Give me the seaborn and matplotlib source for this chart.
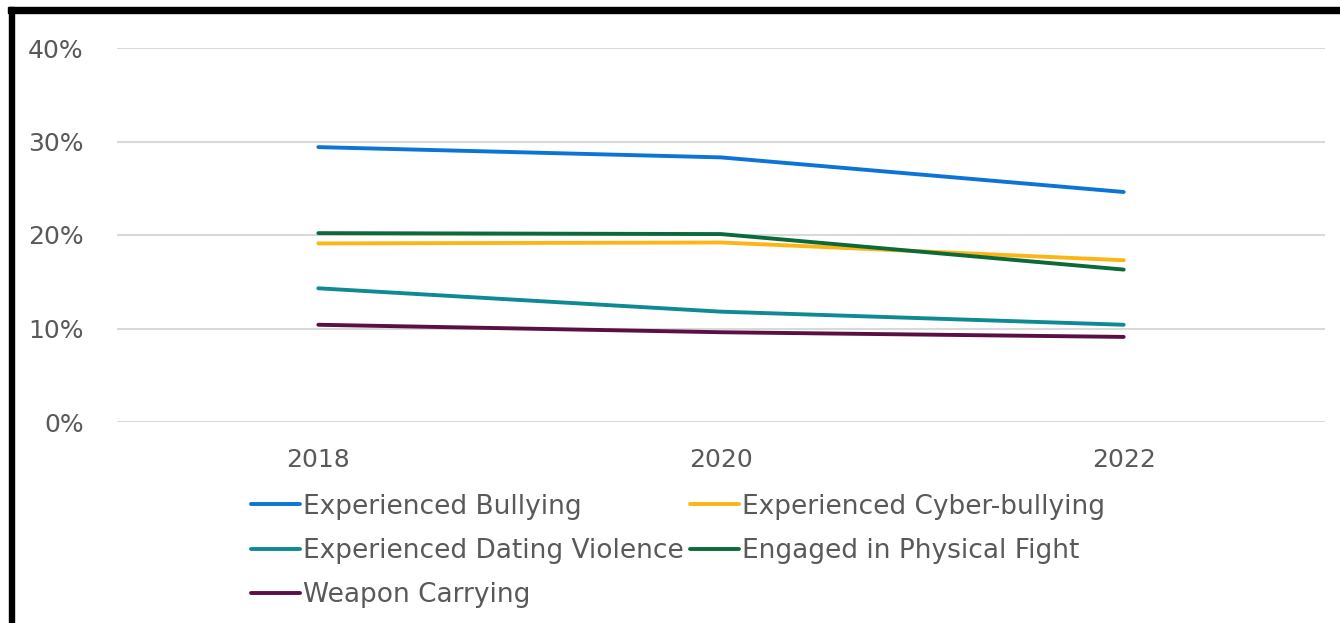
import matplotlib
matplotlib.use('Agg')
import matplotlib.pyplot as plt
from matplotlib.patches import Rectangle
import seaborn as sns
import pandas as pd

# 数据
years = [2018, 2020, 2022]
series_names = ['Experienced Bullying', 'Experienced Cyber-bullying',
                'Experienced Dating Violence', 'Engaged in Physical Fight',
                'Weapon Carrying']
bullying = [0.294, 0.283, 0.246]
cyber_bullying = [0.191, 0.192, 0.173]
dating_violence = [0.143, 0.118, 0.104]
physical_fight = [0.202, 0.201, 0.163]
weapon_carrying = [0.104, 0.096, 0.091]
colors = ['#0b74d6', '#fdb515', '#0f8a94', '#0b6a37', '#5b0f45']

values = [bullying, cyber_bullying, dating_violence, physical_fight, weapon_carrying]
rows = []
for name, vals in zip(series_names, values):
    for y, v in zip(years, vals):
        rows.append({'Year': y, 'Rate': v, 'Series': name})
df = pd.DataFrame(rows)

sns.set_style('white')
plt.rcParams['font.family'] = ['DejaVu Sans']

W, H = 1340, 623
fig = plt.figure(figsize=(W / 100, H / 100), dpi=100)
ax = fig.add_axes([117 / W, 1 - 422 / H, (1325 - 117) / W, (422 - 48) / H])

sns.lineplot(data=df, x='Year', y='Rate', hue='Series', hue_order=series_names,
             palette=colors, linewidth=2.8, ax=ax, legend=False)

ax.set_xlim(2017, 2023)
ax.set_ylim(0, 0.4)
ax.set_xticks(years)
ax.set_xticklabels([str(y) for y in years])
ax.set_yticks([0, 0.1, 0.2, 0.3, 0.4])
ax.set_yticklabels(['0%', '10%', '20%', '30%', '40%'])
ax.grid(axis='y', color='#d9d9d9', linewidth=1.5)
ax.set_axisbelow(True)
for s in ax.spines.values():
    s.set_visible(False)
ax.tick_params(axis='y', length=0, pad=24, labelsize=18, labelcolor='#595959')
ax.tick_params(axis='x', length=0, pad=19, labelsize=18, labelcolor='#595959')
ax.set_xlabel('')
ax.set_ylabel('')

# 图例（按行排列：matplotlib按列填充，所以重新排序）
order = [0, 2, 4, 1, 3]
handles = [plt.Line2D([], [], color=colors[i], linewidth=2.8) for i in order]
labels = [series_names[i] for i in order]
fig.legend(handles, labels, loc='center', ncol=2,
           bbox_to_anchor=(678 / W, 1 - 551 / H), frameon=False,
           prop={'family': 'DejaVu Sans', 'size': 19}, labelcolor='#595959',
           handlelength=1.86, handletextpad=0.11, columnspacing=0.23,
           labelspacing=0.7)

# 外框
fig.patches.append(Rectangle((8 / W, 1 - 13 / H), 1 - 8 / W, 6 / H,
                             transform=fig.transFigure, color='black'))
fig.patches.append(Rectangle((9 / W, 0), 5 / W, 1 - 7 / H,
                             transform=fig.transFigure, color='black'))

fig.savefig('out.png', dpi=100)
